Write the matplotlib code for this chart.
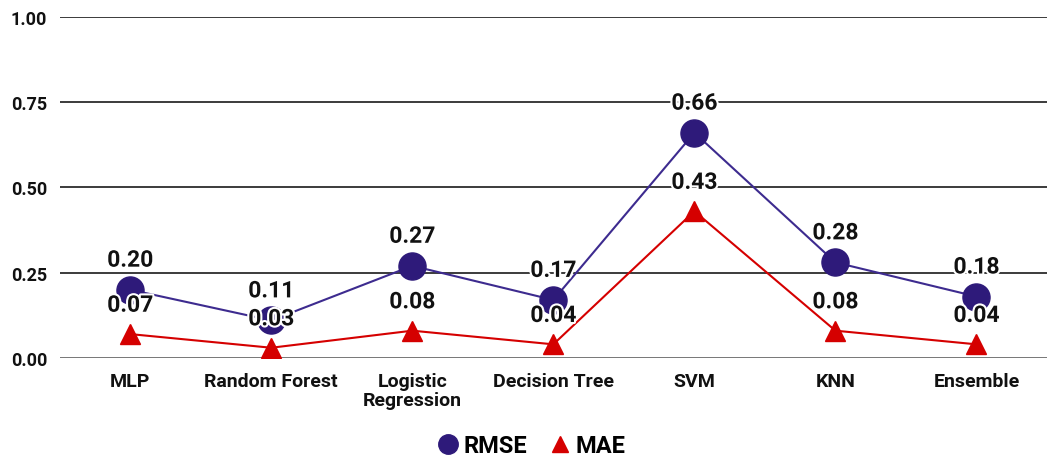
import matplotlib
matplotlib.use('Agg')
import matplotlib.pyplot as plt
import matplotlib.patheffects as pe
from matplotlib.lines import Line2D

models = ['MLP', 'Random Forest', 'Logistic\nRegression', 'Decision Tree', 'SVM', 'KNN', 'Ensemble']
rmse = [0.20, 0.11, 0.27, 0.17, 0.66, 0.28, 0.18]
mae = [0.07, 0.03, 0.08, 0.04, 0.43, 0.08, 0.04]
y_ticks = [0.00, 0.25, 0.50, 0.75, 1.00]

RMSE_COLOR = '#2e1a7a'
RMSE_LINE = '#3d2b8f'
MAE_COLOR = '#d50000'

plt.rcParams['font.family'] = ['Roboto', 'DejaVu Sans']
plt.rcParams['font.weight'] = 'bold'

fig = plt.figure(figsize=(10.47, 4.6), dpi=100)
ax = fig.add_axes([0.057, 0.2196, 0.943, 0.742])

x = list(range(len(models)))
ax.plot(x, rmse, color=RMSE_LINE, linewidth=1.5, zorder=3)
ax.plot(x, rmse, linestyle='none', marker='o', markersize=19.5, color=RMSE_COLOR, zorder=4)
ax.plot(x, mae, color=MAE_COLOR, linewidth=1.5, zorder=3)
ax.plot(x, mae, linestyle='none', marker='^', markersize=15, color=MAE_COLOR, zorder=4)

halo = [pe.withStroke(linewidth=3, foreground='white')]
for xi, v in zip(x, rmse):
    ax.annotate(f'{v:.2f}', (xi, v), xytext=(0, 13), textcoords='offset points',
                ha='center', va='bottom', fontsize=16.5, fontweight='bold',
                color='#111111', path_effects=halo, zorder=6)
for xi, v in zip(x, mae):
    ax.annotate(f'{v:.2f}', (xi, v), xytext=(0, 12.5), textcoords='offset points',
                ha='center', va='bottom', fontsize=16.5, fontweight='bold',
                color='#111111', path_effects=halo, zorder=6)

ax.set_xlim(-0.5, len(models) - 0.5)
ax.set_ylim(0, 1.0)
ax.set_yticks(y_ticks)
ax.set_yticklabels([f'{t:.2f}' for t in y_ticks], fontsize=13, fontweight='bold', color='#111111')
ax.set_xticks(x)
ax.set_xticklabels(models, fontsize=14, fontweight='bold', color='#111111', linespacing=1.05)
ax.tick_params(axis='both', length=0)
ax.tick_params(axis='x', pad=10)
ax.tick_params(axis='y', pad=9)

for t in y_ticks[1:]:
    ax.axhline(t, color='#1a1a1a', linewidth=1.2, zorder=1)
ax.axhline(0, color='#777777', linewidth=1.4, zorder=1)
for s in ax.spines.values():
    s.set_visible(False)

handles = [
    Line2D([], [], linestyle='none', marker='o', markersize=14, color=RMSE_COLOR, label='RMSE'),
    Line2D([], [], linestyle='none', marker='^', markersize=11, color=MAE_COLOR, label='MAE'),
]
fig.legend(handles=handles, loc='center', bbox_to_anchor=(0.507, 0.029), ncol=2, frameon=False,
           prop={'size': 17, 'weight': 'bold'}, handletextpad=0.15, columnspacing=0.9,
           handlelength=1.0)

plt.savefig('out.png', dpi=100)
plt.close(fig)
